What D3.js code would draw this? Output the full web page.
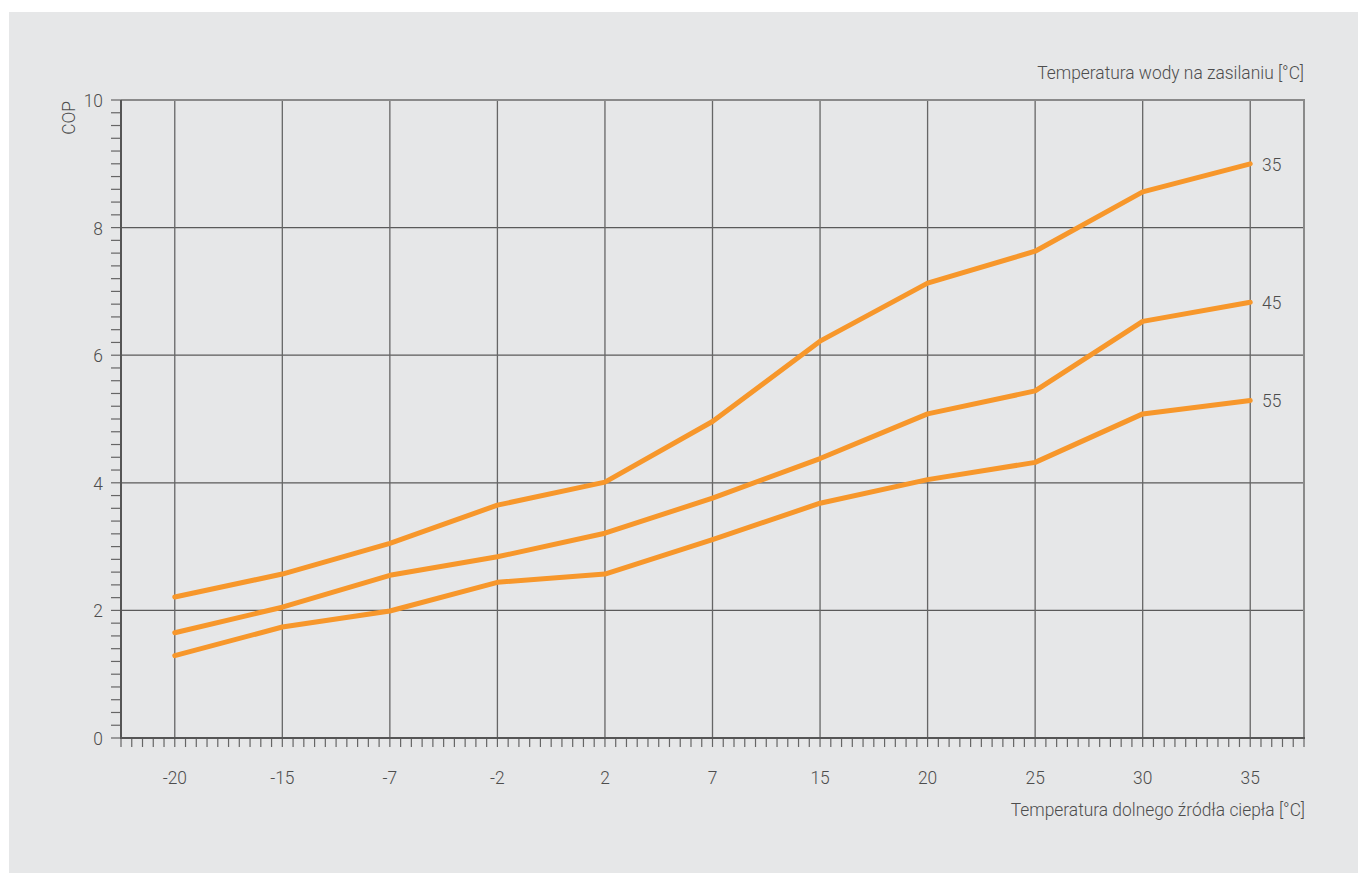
<!DOCTYPE html>
<html>
<head>
<meta charset="utf-8">
<script src="https://cdn.jsdelivr.net/npm/d3@7"></script>
<style>
  html, body { margin: 0; padding: 0; background: #ffffff; }
  svg { display: block; }
  text { font-family: Roboto, "Liberation Sans", sans-serif; font-weight: 300; fill: #4d4d4d; }
</style>
</head>
<body>
<script>
const categories = ["-20", "-15", "-7", "-2", "2", "7", "15", "20", "25", "30", "35"];
const series35 = [2.21, 2.57, 3.05, 3.65, 4.01, 4.96, 6.22, 7.13, 7.63, 8.56, 9.0];
const series45 = [1.65, 2.05, 2.55, 2.84, 3.21, 3.76, 4.38, 5.08, 5.44, 6.53, 6.83];
const series55 = [1.29, 1.74, 1.99, 2.44, 2.57, 3.11, 3.68, 4.05, 4.32, 5.08, 5.29];
const seriesNames = ["35", "45", "55"];
const yTicks = [0, 2, 4, 6, 8, 10];
const xTitle = "Temperatura dolnego źródła ciepła [°C]";
const topTitle = "Temperatura wody na zasilaniu [°C]";
const yTitle = "COP";

const W = 1358, H = 873;
const mLeft = 121, mRight = 1304, mTop = 100, mBottom = 738;
const orange = "#f7972b";
const FS = 18.5;

const svg = d3.select("body").append("svg").attr("width", W).attr("height", H);
svg.append("rect").attr("x", 9).attr("y", 12).attr("width", W - 9).attr("height", H - 12).attr("fill", "#e6e7e8");

// measure condensed factor so the top title spans ~267px as in the reference
const probe = svg.append("text").attr("font-size", FS).text(topTitle);
const SX = 267 / probe.node().getComputedTextLength();
probe.remove();

function label(g, px, py, str, anchor, rot) {
  return g.append("text")
    .attr("transform", `translate(${px},${py})` + (rot ? ` rotate(${rot})` : "") + ` scale(${SX},1)`)
    .attr("text-anchor", anchor).attr("font-size", FS).text(str);
}

const x = d3.scaleBand().domain(categories).range([mLeft, mRight]).padding(0);
const bw = x.bandwidth();
const cx = c => x(c) + bw / 2;
const xMinor = d3.scaleLinear().domain([0, categories.length]).range([mLeft, mRight]);
const y = d3.scaleLinear().domain([0, 10]).range([mBottom, mTop]);

// horizontal gridlines
svg.append("g").selectAll("line").data(yTicks.filter(t => t > 0 && t < 10)).join("line")
  .attr("x1", mLeft).attr("x2", mRight).attr("y1", d => y(d)).attr("y2", d => y(d))
  .attr("stroke", "#5a5a5a").attr("stroke-width", 1.2);
// vertical gridlines
svg.append("g").selectAll("line").data(categories).join("line")
  .attr("x1", d => cx(d)).attr("x2", d => cx(d)).attr("y1", mTop).attr("y2", mBottom)
  .attr("stroke", "#666").attr("stroke-width", 1.3);
// top & right border
svg.append("line").attr("x1", mLeft).attr("x2", mRight + 1).attr("y1", mTop).attr("y2", mTop)
  .attr("stroke", "#8a8a8a").attr("stroke-width", 2);
svg.append("line").attr("x1", mRight).attr("x2", mRight).attr("y1", mTop).attr("y2", mBottom)
  .attr("stroke", "#8a8a8a").attr("stroke-width", 2);

// y minor ticks
const yMinor = d3.range(0, 51).map(i => i / 5);
svg.append("g").selectAll("line").data(yMinor).join("line")
  .attr("x1", mLeft - 10).attr("x2", mLeft).attr("y1", d => y(d)).attr("y2", d => y(d))
  .attr("stroke", "#666").attr("stroke-width", 1.2);
// x minor ticks
const xm = d3.range(0, categories.length * 10 + 1).map(i => i / 10);
svg.append("g").selectAll("line").data(xm).join("line")
  .attr("x1", d => xMinor(d)).attr("x2", d => xMinor(d)).attr("y1", mBottom).attr("y2", mBottom + 9)
  .attr("stroke", "#666").attr("stroke-width", 1.2);

// axis lines
svg.append("line").attr("x1", mLeft).attr("x2", mLeft).attr("y1", mTop).attr("y2", mBottom + 1)
  .attr("stroke", "#555").attr("stroke-width", 2);
svg.append("line").attr("x1", mLeft).attr("x2", mRight + 1).attr("y1", mBottom).attr("y2", mBottom)
  .attr("stroke", "#555").attr("stroke-width", 2);

// y tick labels
const gy = svg.append("g");
yTicks.forEach(t => label(gy, 103, y(t) + 7, String(t), "end"));
// x tick labels
const gx = svg.append("g");
categories.forEach(c => label(gx, cx(c), 784, c, "middle"));

// titles
const gt = svg.append("g");
label(gt, 1305, 816, xTitle, "end");
label(gt, 1304, 79, topTitle, "end");
label(gt, 75, 101, yTitle, "end", -90);

// lines
const allSeries = [series35, series45, series55];
const line = d3.line().x((d, i) => cx(categories[i])).y(d => y(d));
svg.append("g").selectAll("path").data(allSeries).join("path")
  .attr("d", d => line(d)).attr("fill", "none").attr("stroke", orange)
  .attr("stroke-width", 5).attr("stroke-linejoin", "round").attr("stroke-linecap", "round");

// series labels
const gs = svg.append("g");
allSeries.forEach((s, i) => label(gs, 1262, y(s[s.length - 1]) + 7, seriesNames[i], "start"));
</script>
</body>
</html>
